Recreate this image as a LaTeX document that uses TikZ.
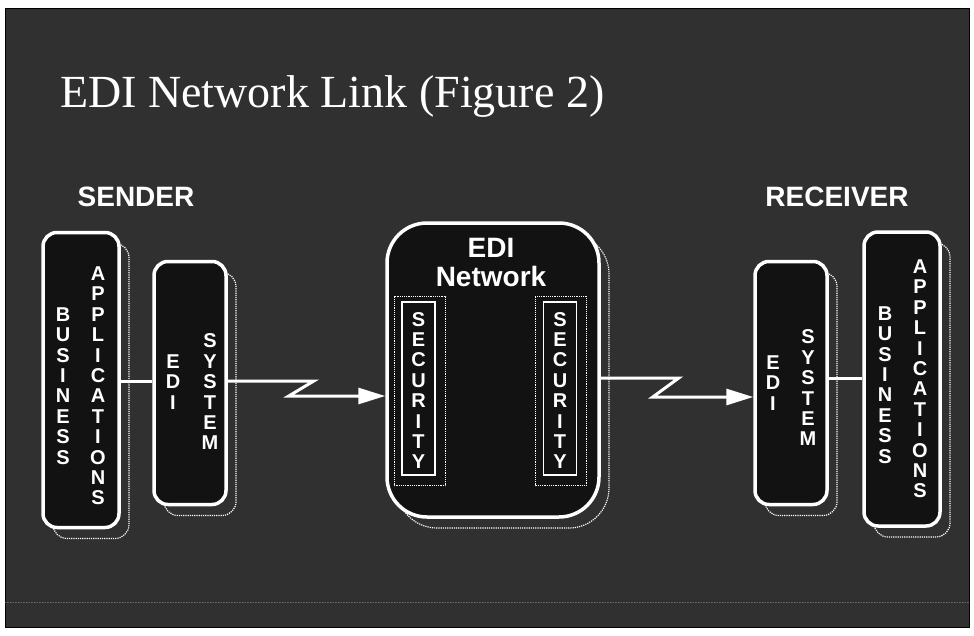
\documentclass[tikz,border=0pt]{standalone}
\usepackage{fontspec}
\setmainfont{Liberation Serif}
\setsansfont{Liberation Sans}
\usetikzlibrary{positioning,calc,shadows,arrows.meta}

\begin{document}
\begin{tikzpicture}[x=1pt,y=-1pt,
    panel/.style={fill=black!81,draw=black,line width=1pt},
    unit/.style={draw=white,fill=black!93,line width=3.5pt,rounded corners=14pt,inner sep=0pt},
    ghost/.style={drop shadow={shadow xshift=10pt,shadow yshift=-11pt,fill=none,draw=white!60,
        line width=1.2pt,densely dotted,opacity=1}},
    sec/.style={draw=white,line width=1.4pt,minimum width=33pt,minimum height=173pt,inner sep=0pt},
    frame/.style={draw=white!70,line width=1.2pt,densely dotted},
    letters/.style={text=white,font=\sffamily\bfseries\fontsize{20}{20.4}\selectfont,align=center,inner sep=0pt},
    head/.style={text=white,font=\sffamily\bfseries\fontsize{28}{28}\selectfont,inner sep=0pt},
    title/.style={text=white,font=\fontsize{46}{46}\selectfont,anchor=base west,inner sep=0pt},
    link/.style={draw=white,line width=3pt},
    bolt/.style={link,-{Triangle[length=27pt,width=16pt]}}]

  \useasboundingbox (0,0) rectangle (974,635);
  \fill[white] (0,0) rectangle (974,635);
  \draw[panel] (5,8) rectangle (969,627);
  \draw[black!60,line width=0.6pt,densely dotted] (5,602) -- (969,602);

  \node[title] (t) at (60,107) {EDI Network Link (Figure 2)};
  \node[head] (snd) at (136,197) {SENDER};
  \node[head] (rcv) at (837,197) {RECEIVER};

  \node[unit,ghost,minimum width=76pt,minimum height=295pt] (ba1) at (81,380) {};
  \node[unit,ghost,minimum width=72pt,minimum height=243pt] (es1) at (190,383) {};
  \node[unit,ghost,rounded corners=40pt,minimum width=212pt,minimum height=294pt] (net) at (493,370) {};
  \node[unit,ghost,minimum width=72pt,minimum height=243pt] (es2) at (791,383) {};
  \node[unit,ghost,minimum width=76pt,minimum height=294pt] (ba2) at (902,379) {};

  \node[letters] (lb1) at ($(ba1)+(-18,6)$) {B\\U\\S\\I\\N\\E\\S\\S};
  \node[letters] (la1) at ($(ba1)+(17,6)$) {A\\P\\P\\L\\I\\C\\A\\T\\I\\O\\N\\S};
  \node[letters] (le1) at ($(es1)+(-17,-1)$) {E\\D\\I};
  \node[letters] (ls1) at ($(es1)+(20,9)$) {S\\Y\\S\\T\\E\\M};

  \node[head] (nl1) at (491,248) {EDI};
  \node[head,below=8pt of nl1] (nl2) {Network};
  \node[sec] (sec1) at (418.5,388.5) {};
  \node[sec] (sec2) at (560,388.5) {};
  \draw[frame] ($(sec1.north west)+(-7,-5)$) rectangle ($(sec1.south east)+(10,10)$);
  \draw[frame] ($(sec2.north west)+(-7,-5)$) rectangle ($(sec2.south east)+(9,10)$);
  \node[letters] (lc1) at ($(sec1)+(0,2)$) {S\\E\\C\\U\\R\\I\\T\\Y};
  \node[letters] (lc2) at ($(sec2)+(0,2)$) {S\\E\\C\\U\\R\\I\\T\\Y};

  \node[letters] (le2) at ($(es2)+(-18,0)$) {E\\D\\I};
  \node[letters] (ls2) at ($(es2)+(17,5)$) {S\\Y\\S\\T\\E\\M};
  \node[letters] (lb2) at ($(ba2)+(-17,6)$) {B\\U\\S\\I\\N\\E\\S\\S};
  \node[letters] (la2) at ($(ba2)+(18,0)$) {A\\P\\P\\L\\I\\C\\A\\T\\I\\O\\N\\S};

  \coordinate (y1) at (0,381);
  \coordinate (y2) at (0,396);
  \coordinate (y3) at (0,378);
  \coordinate (y4) at (0,397);

  \draw[link] (ba1.east |- y1) -- (es1.west |- y1);
  \draw[bolt] (es1.east |- y1) -- ++(86,0) -- ++(-25,15) -- (net.west |- y2);
  \draw[bolt] (net.east |- y3) -- ++(78,0) -- ++(-26,19) -- (es2.west |- y4);
  \draw[link] (es2.east |- y3) -- (ba2.west |- y3);
\end{tikzpicture}
\end{document}
